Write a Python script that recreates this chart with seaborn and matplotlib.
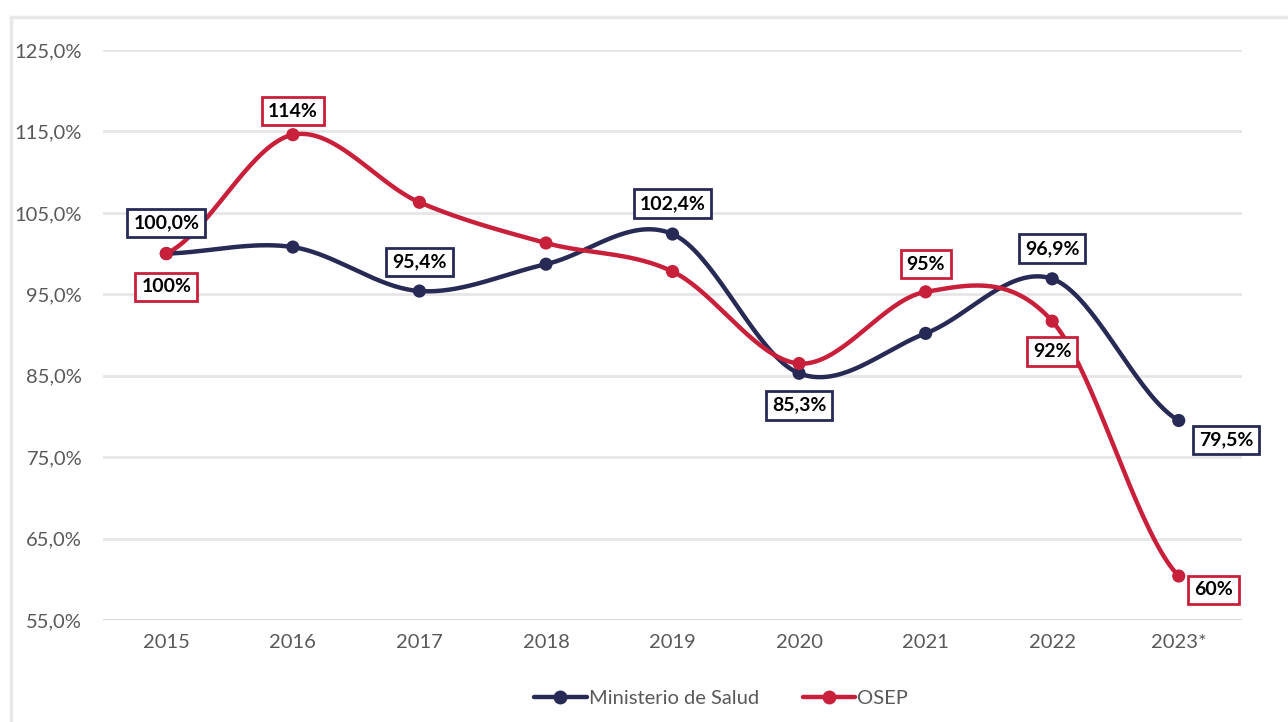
import numpy as np
import pandas as pd
import seaborn as sns
import matplotlib.pyplot as plt
from matplotlib.ticker import FuncFormatter
from matplotlib.lines import Line2D

years = ["2015", "2016", "2017", "2018", "2019", "2020", "2021", "2022", "2023*"]
ministerio = [100.0, 100.8, 95.4, 98.7, 102.4, 85.3, 90.2, 96.9, 79.5]
osep = [100.0, 114.6, 106.3, 101.3, 97.8, 86.5, 95.3, 91.7, 60.4]

# data labels that are shown (index -> text)
ministerio_labels = {0: "100,0%", 2: "95,4%", 4: "102,4%", 5: "85,3%", 7: "96,9%", 8: "79,5%"}
osep_labels = {0: "100%", 1: "114%", 6: "95%", 7: "92%", 8: "60%"}

NAVY = "#262a55"
RED = "#c8203b"
GRAY_TXT = "#595959"


def smooth(y, n=40):
    # excel-like smoothed line: catmull-rom segments drawn as cubic bezier
    y = np.asarray(y, dtype=float)
    p = np.concatenate([[y[0]], y, [y[-1]]])
    xs, ys = [], []
    t = np.linspace(0, 1, n)
    for i in range(len(y) - 1):
        p0, p1, p2, p3 = p[i], p[i + 1], p[i + 2], p[i + 3]
        c1 = p1 + (p2 - p0) / 6
        c2 = p2 - (p3 - p1) / 6
        b = (1 - t) ** 3 * p1 + 3 * (1 - t) ** 2 * t * c1 + 3 * (1 - t) * t ** 2 * c2 + t ** 3 * p2
        xs.append(i + t)
        ys.append(b)
    return np.concatenate(xs), np.concatenate(ys)


sns.set_theme(style="white")
plt.rcParams["font.family"] = ["Lato", "DejaVu Sans"]

fig = plt.figure(figsize=(12.88, 7.22), dpi=100)
ax = fig.add_axes([0.08, 0.1413, 0.8843, 0.7894])

df = pd.DataFrame({
    "x": list(range(len(years))) * 2,
    "valor": ministerio + osep,
    "serie": ["Ministerio de Salud"] * len(years) + ["OSEP"] * len(years),
})
palette = {"Ministerio de Salud": NAVY, "OSEP": RED}

for serie, vals in [("Ministerio de Salud", ministerio), ("OSEP", osep)]:
    sx, sy = smooth(vals)
    ax.plot(sx, sy, color=palette[serie], lw=3.2, solid_capstyle="round", zorder=3)

sns.scatterplot(data=df, x="x", y="valor", hue="serie", palette=palette, s=90,
                edgecolor="none", legend=False, ax=ax, zorder=4)

ax.set_xlim(-0.5, len(years) - 0.5)
ax.set_ylim(55, 125)
ax.set_yticks([55, 65, 75, 85, 95, 105, 115, 125])
ax.yaxis.set_major_formatter(FuncFormatter(lambda v, p: f"{v:.1f}%".replace(".", ",")))
ax.set_xticks(range(len(years)))
ax.set_xticklabels(years)
ax.set_xlabel("")
ax.set_ylabel("")
ax.grid(axis="y", color="#e6e6e6", lw=2, zorder=0)
ax.axhline(55, color="#d4d4d4", lw=2, zorder=1)
for s in ax.spines.values():
    s.set_visible(False)
ax.tick_params(axis="both", length=0, labelsize=14.5, colors=GRAY_TXT)
ax.tick_params(axis="y", pad=15)
ax.tick_params(axis="x", pad=10)

# label offsets in points (dx, dy)
ms_off = {0: (0, 22), 2: (0, 21), 4: (0, 22), 5: (0, -23), 7: (0, 22), 8: (34, -14)}
os_off = {0: (0, -24), 1: (0, 17), 6: (0, 20), 7: (0, -22), 8: (25, -10)}

for labels, offs, vals, col in [(ministerio_labels, ms_off, ministerio, NAVY),
                                 (osep_labels, os_off, osep, RED)]:
    for i, txt in labels.items():
        ax.annotate(txt, (i, vals[i]), xytext=offs[i], textcoords="offset points",
                    ha="center", va="center", fontsize=14, fontweight="bold",
                    color="black", zorder=6,
                    bbox=dict(boxstyle="square,pad=0.3", fc="white", ec=col, lw=2))

handles = [Line2D([0], [0], color=NAVY, lw=3.2, marker="o", markersize=9),
           Line2D([0], [0], color=RED, lw=3.2, marker="o", markersize=9)]
leg = fig.legend(handles, ["Ministerio de Salud", "OSEP"], loc="center",
                 bbox_to_anchor=(0.56, 0.033), ncol=2, frameon=False, fontsize=14.5,
                 handlelength=2.6, handletextpad=0.1, columnspacing=2.2)
for t in leg.get_texts():
    t.set_color(GRAY_TXT)

# chart frame (top and left edges visible)
fig.add_artist(Line2D([11 / 1288, 1.0], [1 - 17 / 722, 1 - 17 / 722],
                      transform=fig.transFigure, color="#e8e8e8", lw=2.5))
fig.add_artist(Line2D([11 / 1288, 11 / 1288], [0.0, 1 - 17 / 722],
                      transform=fig.transFigure, color="#e8e8e8", lw=2.5))

fig.savefig("out.png", dpi=100, facecolor="white")
